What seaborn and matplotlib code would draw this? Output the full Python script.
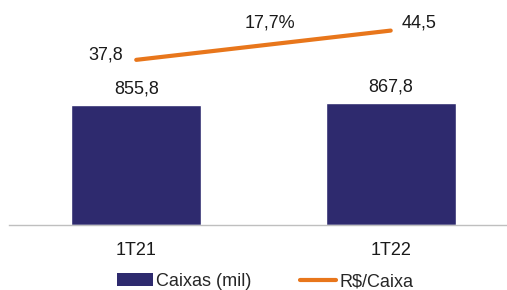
import matplotlib
matplotlib.use("Agg")
import matplotlib.pyplot as plt
import seaborn as sns
import pandas as pd
from matplotlib.patches import Patch
from matplotlib.lines import Line2D

# data
periods = ["1T21", "1T22"]
caixas = [855.8, 867.8]          # Caixas (mil)
rs_caixa = [37.8, 44.5]          # R$/Caixa
growth_label = "17,7%"

navy = "#2E2A6E"
orange = "#E8761B"

sns.set_style("white")
plt.rcParams["font.family"] = ["Liberation Sans", "DejaVu Sans"]

df = pd.DataFrame({"periodo": periods, "caixas": caixas, "rs": rs_caixa})

fig = plt.figure(figsize=(5.07, 2.9), dpi=100)
ax = fig.add_axes([9 / 507, 1 - 225 / 290, 1 - 9 / 507, 225 / 290])

sns.barplot(data=df, x="periodo", y="caixas", color=navy, width=0.51,
            saturation=1, ax=ax)
ax.set_ylim(0, 1604)
ax.set_xlim(-0.5, 1.457)
ax.set_xlabel("")
ax.set_ylabel("")
ax.set_yticks([])
ax.tick_params(axis="x", length=0, labelsize=13, pad=12, colors="#1a1a1a")
for side in ["top", "right", "left"]:
    ax.spines[side].set_visible(False)
ax.spines["bottom"].set_color("#BFBFBF")
ax.spines["bottom"].set_linewidth(1.0)

for i, v in enumerate(caixas):
    ax.text(i, v + 55, f"{v:.1f}".replace(".", ","), ha="center", va="bottom",
            fontsize=13, color="#1a1a1a")

ax2 = ax.twinx()
sns.lineplot(x=[0, 1], y=rs_caixa, color=orange, linewidth=3, ax=ax2)
ax2.set_ylim(0, 51.5)
ax2.set_xlim(-0.5, 1.457)
ax2.set_yticks([])
ax2.set_ylabel("")
for side in ["top", "right", "left", "bottom"]:
    ax2.spines[side].set_visible(False)

ax2.text(-0.12, rs_caixa[0] + 1.2, f"{rs_caixa[0]:.1f}".replace(".", ","),
         ha="center", va="center", fontsize=13, color="#1a1a1a")
ax2.text(1.11, rs_caixa[1] + 1.8, f"{rs_caixa[1]:.1f}".replace(".", ","),
         ha="center", va="center", fontsize=13, color="#1a1a1a")
ax2.text(0.525, 46.3, growth_label, ha="center", va="center",
         fontsize=13, color="#1a1a1a")

handles = [Patch(facecolor=navy, edgecolor="none", label="Caixas (mil)"),
           Line2D([0], [0], color=orange, linewidth=3, label="R$/Caixa")]
fig.legend(handles=handles, loc="center", bbox_to_anchor=(0.523, 1 - 281.5 / 290),
           ncol=2, frameon=False, fontsize=13, handlelength=2.0,
           handletextpad=0.15, columnspacing=2.7)

fig.savefig("out.png", dpi=100)
